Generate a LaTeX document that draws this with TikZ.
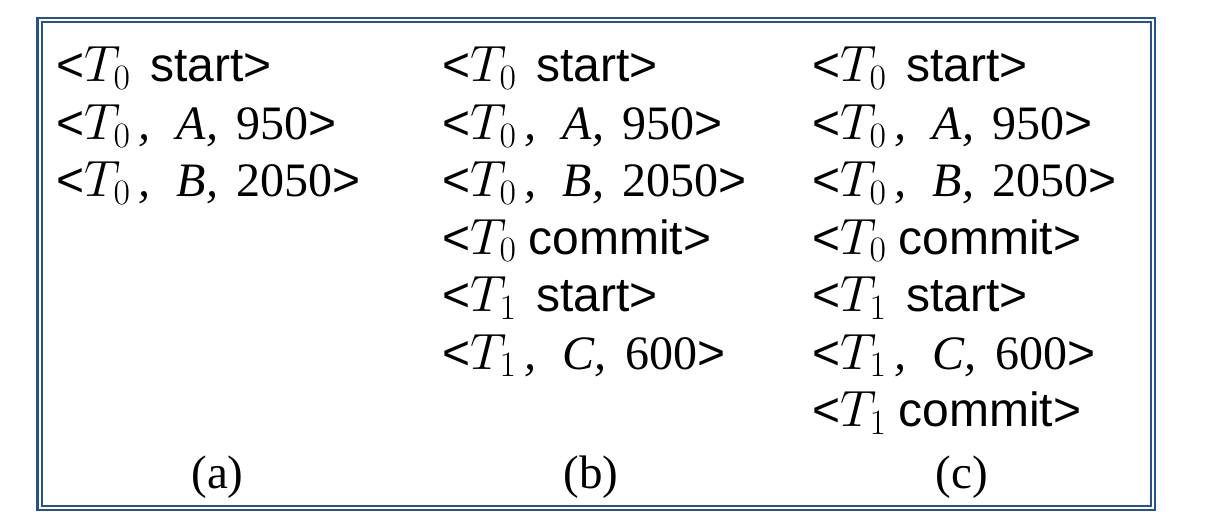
\documentclass[tikz,border=0pt]{standalone}
\usepackage{fix-cm}
\usepackage[no-math]{fontspec}
\setmainfont{Liberation Serif}
\setsansfont{Liberation Sans}
\usetikzlibrary{positioning}
\definecolor{frameblue}{RGB}{38,80,150}
\tikzset{logline/.style={anchor=base west, inner sep=0pt,
   font=\fontsize{48}{48}\selectfont},
 caption/.style={anchor=base, inner sep=0pt,
   font=\fontsize{47}{47}\selectfont},
 }
\newcommand{\trans}[1]{{\fontsize{51}{51}\selectfont$T_{#1}$}}
\newcommand{\logstart}[1]{\textsf{<}\trans{#1}\hspace{0.42em}\textsf{start>}}
\newcommand{\logcommit}[1]{\textsf{<}\trans{#1} \textsf{commit>}}
\newcommand{\logupd}[3]{\textsf{<}\trans{#1}\,\textit{,}\hspace{0.55em}\textit{#2,}\hspace{0.38em}#3\textsf{>}}

\begin{document}
\begin{tikzpicture}[x=1pt,y=1pt]
    \useasboundingbox (0,0) rectangle (1218,520);
    \draw[frameblue, line width=2.6pt] (37.5,502) rectangle (1155,10);
    \draw[frameblue, line width=1.3pt] (42,498) rectangle (1151,14);

    \foreach \col/\x in {a/56, b/442, c/812} {
        \node[logline] (\col1) at (\x, 438) {\logstart{0}};
        \node[logline] (\col2) at (\x, 380.6) {\logupd{0}{A}{950}};
        \node[logline] (\col3) at (\x, 323.2) {\logupd{0}{B}{2050}};
    }
    \node[logline] (b4) at (442, 265.8) {\logcommit{0}};
    \node[logline] (b5) at (442, 208.4) {\logstart{1}};
    \node[logline] (b6) at (442, 151) {\logupd{1}{C}{600}};

    \node[logline] (c4) at (812, 265.8) {\logcommit{0}};
    \node[logline] (c5) at (812, 208.4) {\logstart{1}};
    \node[logline] (c6) at (812, 151) {\logupd{1}{C}{600}};
    \node[logline] (c7) at (812, 93.6) {\logcommit{1}};

    \node[caption] (capa) at (217.5, 32) {(a)};
    \node[caption] (capb) at (591, 32) {(b)};
    \node[caption] (capc) at (962, 32) {(c)};
\end{tikzpicture}
\end{document}
